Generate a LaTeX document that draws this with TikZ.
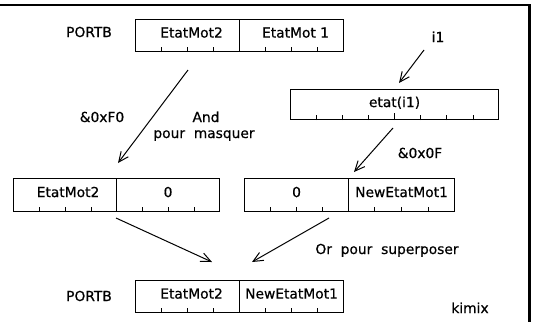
\documentclass[tikz,border=0pt]{standalone}
\usepackage{fontspec}
\setmainfont[FakeBold=0.6]{DejaVu Sans}
\usetikzlibrary{arrows.meta,calc}
\begin{document}
\begin{tikzpicture}[x=1pt,y=-1pt,
  txt/.style={font=\fontsize{13.8}{16}\selectfont},
  cell/.style={txt, draw, line width=1.1pt, minimum width=104pt, minimum height=32pt,
    inner sep=0pt, anchor=north west, text height=10pt, text depth=6pt},
  lbl/.style={txt, anchor=base, inner sep=0pt},
  tick/.style={line width=0.9pt},
  arr/.style={line width=1pt, -{Straight Barb[length=10pt,width=9pt,line width=1pt]}},
  frame/.style={line width=2pt}]
\useasboundingbox (0,0) rectangle (534,322);
% frame (top and right)
\draw[frame] (0,5) -- (530,5);
\draw[line width=2.6pt] (529.5,4) -- (529.5,322);

% top register
\node[lbl] (p1) at (89,37) {PORTB};
\node[cell] (a1) at (135,19) {\hspace{8pt}EtatMot2};
\node[cell] (a2) at (239,19) {\hspace{8pt}EtatMot 1};

% etat(i1)
\node[lbl] (i1) at (438,42) {i1};
\node[cell, minimum width=208pt, minimum height=30pt, text depth=5pt] (e) at (290,89) {etat(i1)};

% middle registers
\node[cell, minimum width=103pt, minimum height=33pt] (m1) at (13,178) {\hspace{6pt}EtatMot2};
\node[cell, minimum width=103pt, minimum height=33pt] (m2) at (116,178) {0};
\node[cell, minimum width=104pt, minimum height=33pt] (n1) at (244,178) {0};
\node[cell, minimum width=106pt, minimum height=33pt] (n2) at (348,178) {NewEtatMot1};

% bottom register
\node[lbl] (p2) at (89,301) {PORTB};
\node[cell] (b1) at (135,280) {\hspace{8pt}EtatMot2};
\node[cell] (b2) at (239,280) {NewEtatMot1};

% ticks
\foreach \c in {a1,a2,m1,m2,n1,n2,b1,b2}{
  \foreach \f in {0.25,0.5,0.75}{
    \draw[tick] ($(\c.south west)!\f!(\c.south east)$) -- ++(0,-5);
  }
}
\foreach \f in {0.125,0.25,0.375,0.625,0.75,0.875}{
  \draw[tick] ($(e.south west)!\f!(e.south east)$) -- ++(0,-5);
}
\draw[tick] ($(e.south west)!0.5!(e.south east)$) -- ++(0,-7);

% labels
\node[lbl] (l1) at (102,122) {\&0xF0};
\node[lbl] (l2) at (206,122) {And};
\node[lbl] (l3) at (204,138) {pour\ \ masquer};
\node[lbl] (l4) at (420,158) {\&0x0F};
\node[lbl] (l5) at (387,254) {Or\ \ pour\ \ superposer};
\node[lbl] (k) at (470,313) {kimix};

% arrows
\coordinate (s1) at (188,70);  \coordinate (t1) at (118,163);
\coordinate (s2) at (424,50);  \coordinate (t2) at (399,83);
\coordinate (s3) at (393,128); \coordinate (t3) at (354,172);
\coordinate (s4) at (116,218); \coordinate (t4) at (212,262);
\coordinate (s5) at (329,218); \coordinate (t5) at (252,262);
\draw[arr] (s1) -- (t1);
\draw[arr] (s2) -- (t2);
\draw[arr] (s3) -- (t3);
\draw[arr] (s4) -- (t4);
\draw[arr] (s5) -- (t5);
\end{tikzpicture}
\end{document}
